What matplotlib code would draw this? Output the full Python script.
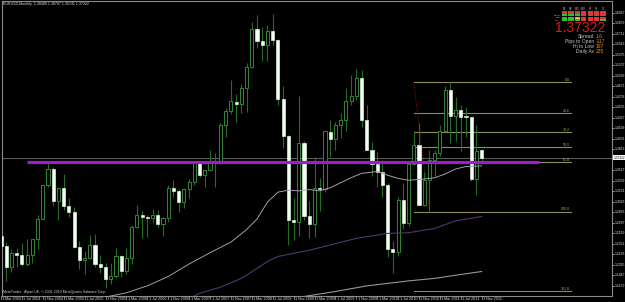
import matplotlib
matplotlib.use('Agg')
import matplotlib.pyplot as plt
from matplotlib import font_manager

# ---------------- data (EURUSD monthly, Mar 2004 .. Nov 2011) ----------------
opens = [1.2478, 1.2316, 1.1975, 1.2200, 1.2173, 1.2026, 1.2175, 1.2434, 1.2754, 1.3293,
         1.3554, 1.3040, 1.3250, 1.2960, 1.2870, 1.2300, 1.2100, 1.2130, 1.2340, 1.2030, 1.1990, 1.1790,
         1.1840, 1.2150, 1.1920, 1.2120, 1.2620, 1.2820, 1.2790, 1.2760, 1.2810, 1.2670, 1.2760, 1.3250,
         1.3200, 1.3030, 1.3230, 1.3350, 1.3650, 1.3450, 1.3530, 1.3680, 1.3640, 1.4260, 1.4480, 1.4630,
         1.4590, 1.4850, 1.5180, 1.5790, 1.5600, 1.5540, 1.5760, 1.5610, 1.4670, 1.4080, 1.2740, 1.2700,
         1.3970, 1.2800, 1.2670, 1.3250, 1.3230, 1.4150, 1.4030, 1.4250, 1.4340, 1.4640, 1.4720, 1.5000,
         1.4330, 1.3860, 1.3630, 1.3510, 1.3290, 1.2270, 1.2230, 1.3050, 1.2690, 1.3630, 1.3930, 1.2980,
         1.3380, 1.3690, 1.3810, 1.4160, 1.4810, 1.4400, 1.4500, 1.4390, 1.4380, 1.3390, 1.3849]
highs = [1.2496, 1.2385, 1.2276, 1.2288, 1.2369, 1.2433, 1.2437, 1.2810, 1.3298, 1.3667,
         1.3580, 1.3269, 1.3470, 1.3090, 1.2935, 1.2390, 1.2240, 1.2490, 1.2515, 1.2180, 1.2050, 1.2040,
         1.2290, 1.2170, 1.2280, 1.2650, 1.2980, 1.2900, 1.2820, 1.2910, 1.2890, 1.2780, 1.3290, 1.3370,
         1.3230, 1.3240, 1.3390, 1.3680, 1.3680, 1.3530, 1.3850, 1.3800, 1.4280, 1.4530, 1.4970, 1.4750,
         1.4910, 1.5240, 1.5910, 1.6020, 1.5820, 1.5850, 1.6038, 1.5630, 1.4870, 1.4090, 1.3080, 1.4720,
         1.4000, 1.3040, 1.3740, 1.3410, 1.4150, 1.4340, 1.4300, 1.4450, 1.4840, 1.5060, 1.5144, 1.5140,
         1.4580, 1.3990, 1.3820, 1.3690, 1.3330, 1.2390, 1.3100, 1.3330, 1.3680, 1.4160, 1.4280, 1.3500,
         1.3860, 1.3860, 1.4250, 1.4880, 1.4940, 1.4700, 1.4580, 1.4550, 1.4390, 1.4250, 1.3871]
lows = [1.2084, 1.1759, 1.1902, 1.1986, 1.2003, 1.2002, 1.2046, 1.2264, 1.2750, 1.3265,
        1.2954, 1.2728, 1.2890, 1.2790, 1.2292, 1.1950, 1.1870, 1.2110, 1.1990, 1.1880, 1.1640, 1.1705,
        1.1800, 1.1820, 1.1870, 1.2030, 1.2600, 1.2450, 1.2460, 1.2690, 1.2620, 1.2480, 1.2710, 1.3100,
        1.2860, 1.2920, 1.3080, 1.3300, 1.3420, 1.3260, 1.3520, 1.3260, 1.3630, 1.4070, 1.4430, 1.4310,
        1.4440, 1.4460, 1.5170, 1.5480, 1.5280, 1.5280, 1.5540, 1.4580, 1.3880, 1.2330, 1.2420, 1.2480,
        1.2740, 1.2450, 1.2460, 1.2880, 1.3180, 1.3750, 1.3850, 1.4050, 1.4160, 1.4580, 1.4650, 1.4220,
        1.3860, 1.3440, 1.3270, 1.3110, 1.2140, 1.1880, 1.2160, 1.2590, 1.2640, 1.3620, 1.2970, 1.2960,
        1.2870, 1.3440, 1.3760, 1.4150, 1.3970, 1.4000, 1.3840, 1.4060, 1.3360, 1.3140, 1.3654]
closes = [1.2316, 1.1975, 1.2200, 1.2173, 1.2026, 1.2175, 1.2434, 1.2754, 1.3293, 1.3554,
          1.3040, 1.3250, 1.2960, 1.2870, 1.2300, 1.2100, 1.2130, 1.2340, 1.2030, 1.1990, 1.1790, 1.1840,
          1.2150, 1.1920, 1.2120, 1.2620, 1.2820, 1.2790, 1.2760, 1.2810, 1.2670, 1.2760, 1.3250, 1.3200,
          1.3030, 1.3230, 1.3350, 1.3650, 1.3450, 1.3530, 1.3680, 1.3640, 1.4260, 1.4480, 1.4630, 1.4590,
          1.4850, 1.5180, 1.5790, 1.5600, 1.5540, 1.5760, 1.5610, 1.4670, 1.4080, 1.2740, 1.2700, 1.3970,
          1.2800, 1.2670, 1.3250, 1.3230, 1.4150, 1.4030, 1.4250, 1.4340, 1.4640, 1.4720, 1.5000, 1.4330,
          1.3860, 1.3630, 1.3510, 1.3290, 1.2270, 1.2230, 1.3050, 1.2690, 1.3630, 1.3930, 1.2980, 1.3380,
          1.3690, 1.3810, 1.4160, 1.4810, 1.4400, 1.4500, 1.4390, 1.4380, 1.3390, 1.3840, 1.37322]

# time-axis labels (every 4th bar)
time_labels = ['1 Mar 2004', '1 Jul 2004', '1 Nov 2004', '1 Mar 2005', '1 Jul 2005', '1 Nov 2005',
               '1 Mar 2006', '1 Jul 2006', '1 Nov 2006', '1 Mar 2007', '1 Jul 2007', '1 Nov 2007',
               '1 Mar 2008', '1 Jul 2008', '1 Nov 2008', '1 Mar 2009', '1 Jul 2009', '1 Nov 2009',
               '1 Mar 2010', '1 Jul 2010', '1 Nov 2010', '1 Mar 2011', '1 Jul 2011', '1 Nov 2011']

# moving averages: (bar index, price)
ma_slow_x = [20, 24, 28, 32, 36, 40, 44, 47, 49, 51, 53, 55, 57, 59, 61, 63, 65, 67, 69, 72, 74, 76, 78, 81, 83, 85, 87, 89, 92]
ma_slow_y = [1.150, 1.157, 1.168, 1.183, 1.203, 1.221, 1.238, 1.258, 1.275, 1.302, 1.318, 1.321, 1.320, 1.322,
             1.320, 1.325, 1.333, 1.341, 1.348, 1.351, 1.345, 1.340, 1.337, 1.339, 1.341, 1.347, 1.355, 1.359, 1.360]
ma_purple_x = [36, 38, 42, 46, 49, 51, 53, 59, 68, 74, 78, 83, 87, 92]
ma_purple_y = [1.148, 1.156, 1.166, 1.180, 1.196, 1.207, 1.215, 1.225, 1.244, 1.252, 1.253, 1.260, 1.272, 1.279]
ma_grey_x = [56, 58, 64, 70, 78, 83, 87, 92]
ma_grey_y = [1.146, 1.151, 1.159, 1.168, 1.176, 1.180, 1.185, 1.191]

# Fibonacci retracement (anchors) and levels
fib_x = [79, 82]
fib_high = 1.4940
fib_low = 1.2870
fib_levels = [0.0, 23.6, 38.2, 50.0, 61.8, 100.0, 161.8]
fib_right = 109
# horizontal support/resistance line
hline_price = 1.3667
hline_x = [5, 103]
bid_price = 1.37322

# price axis labels
price_ticks = [1.6215 - 0.0168 * k for k in range(28)]

# info panel
cols = ['M1', 'M5', 'M15', 'M30', 'H1', 'H4', 'D1']
rows = ['', 'MACD', 'STR', 'EMA']
grid = [['r', 'r', 'r', 'r', 'r', 'r', 'r'],
        ['g', 'g', 'g', 'r', 'r', 'r', 'r'],
        ['g', 'g', 'y', 'r', 'r', 'r', 'r'],
        ['g', 'g', 'g', 'r', 'r', 'r', 'g']]
info_labels = ['Spread', 'Pips to Open', 'Hi to Low', 'Daily Av']
info_values = ['1.6', '-117', '197', '235']

# ---------------- figure ----------------
W, H = 625, 302
fig = plt.figure(figsize=(W / 100, H / 100), dpi=100, facecolor='black')
names = {f.name for f in font_manager.fontManager.ttflist}
small_font = 'Liberation Sans Narrow' if 'Liberation Sans Narrow' in names else 'Liberation Sans'

L, R, T, B = 2, 612, 1, 296
ax = fig.add_axes([L / W, 1 - B / H, (R - L) / W, (B - T) / H])
ax.set_facecolor('black')

dx = 5.225
x0 = 1.0
def px2x(px):
    return (px - x0) / dx
s = 0.0016
def py2p(py):
    return 1.6038 - (py - 13.5) * s

ax.set_xlim(px2x(L), px2x(R))
ax.set_ylim(py2p(B), py2p(T))
for sp in ax.spines.values():
    sp.set_color('#8a8a8a')
    sp.set_linewidth(0.8)
ax.set_xticks([])
ax.set_yticks([])

# bid line
ax.axhline(bid_price, color='#5a5a5a', lw=0.8, zorder=1)

# fib
fr = fib_high - fib_low
for lv in fib_levels:
    p = fib_high - lv / 100 * fr
    ax.plot([fib_x[0], fib_right], [p, p], color='#8c8c5c', lw=0.8, zorder=1)
    ax.text(fib_right - 0.1, p, '%.1f' % lv, color='#b8a860', fontsize=2.6, ha='right', va='bottom',
            family=small_font, zorder=6)
ax.plot(fib_x, [fib_high, fib_low], color='#a01010', lw=0.7, ls=(0, (1, 1.5)), zorder=1.5)

# candles
bw = 0.6
for i, (o, h, l, c) in enumerate(zip(opens, highs, lows, closes)):
    ax.vlines(i, l, h, color='#276b27', lw=0.8, zorder=2)
    lo, hi = min(o, c), max(o, c)
    hgt = max(hi - lo, 0.0006)
    if c >= o:
        ax.bar(i, hgt, bottom=lo, width=bw, color='black', edgecolor='#348534', lw=0.7, zorder=3)
    else:
        ax.bar(i, hgt, bottom=lo, width=bw, color='#f4fff4', edgecolor='#d8f0d8', lw=0.5, zorder=3)

# moving averages
ax.plot(ma_slow_x, ma_slow_y, color='#a0a0a8', lw=0.7, zorder=4)
ax.plot(ma_purple_x, ma_purple_y, color='#503674', lw=0.8, zorder=4)
ax.plot(ma_grey_x, ma_grey_y, color='#8c9e8c', lw=0.8, zorder=4)

# purple horizontal line
ax.plot(hline_x, [hline_price, hline_price], color='#9a1fc8', lw=2.3, solid_capstyle='butt', zorder=5)

# ---------------- text ----------------
def ftext(px, py, s, **kw):
    return fig.text(px / W, 1 - py / H, s, **kw)

ftext(3, 3.5, 'EURUSD,Monthly  1.38488 1.38707 1.35741 1.37322', color='#e0e0e0', fontsize=2.6,
      family=small_font, va='center', ha='left')
ftext(3, 292.5, 'MetaTrader - Alpari UK, \u00a9 2001-2010 MetaQuotes Software Corp.', color='#d0d0d0',
      fontsize=2.5, family=small_font, va='center', ha='left')

# time axis
for k, lab in enumerate(time_labels):
    xp = x0 + dx * 4 * k
    fig.add_artist(plt.Line2D([xp / W, xp / W], [1 - 296 / H, 1 - 299 / H], color='#b0b0b0', lw=0.5))
    ftext(xp + 1.5, 299.3, lab, color='#e0e0e0', fontsize=2.7, family=small_font, va='center', ha='left')

# price axis
ybid = 13.5 + (1.6038 - bid_price) / s
for p in price_ticks:
    yp = 13.5 + (1.6038 - p) / s
    if yp < 2.5 or yp > 299 or abs(yp - ybid) < 5:
        continue
    fig.add_artist(plt.Line2D([612 / W, 614 / W], [1 - yp / H, 1 - yp / H], color='#b0b0b0', lw=0.5))
    ftext(614.8, yp, '%.4f' % p, color='#e0e0e0', fontsize=2.4, family=small_font, va='center', ha='left')
# bid box
ftext(613.6, ybid, '%.5f' % bid_price, color='black', fontsize=2.3, family=small_font, va='center', ha='left',
      bbox=dict(boxstyle='square,pad=0.12', fc='white', ec='white', lw=0))

# info panel grid
cmap = {'r': '#d83a3a', 'g': '#2ec02e', 'y': '#d8c030'}
for j, c in enumerate(cols):
    cx = 562 + j * 6.4
    ftext(cx + 2.5, 9.0, c, color='#c0c0c0', fontsize=1.8, family=small_font, ha='center', va='center')
for r_i, row in enumerate(grid):
    cy = 11.5 + r_i * 2.6
    ftext(560, cy + 1, rows[r_i], color='#c0c0c0', fontsize=1.6, family=small_font, ha='right', va='center')
    for j, col in enumerate(row):
        cx = 562 + j * 6.4
        fig.patches.append(matplotlib.patches.Rectangle((cx / W, 1 - (cy + 2) / H), 5.2 / W, 2.0 / H,
                                                        transform=fig.transFigure, fc=cmap[col], ec='none'))

ftext(605, 27.5, '1.37322', color='#e01818', fontsize=10, family='Liberation Sans', ha='right', va='center')
for k, (lb, vv) in enumerate(zip(info_labels, info_values)):
    yy = 36.5 + k * 5.1
    ftext(594, yy, lb, color='#c8c8c8', fontsize=3.6, family='Liberation Sans', ha='right', va='center')
    ftext(596, yy, vv, color='#e88a20', fontsize=3.6, family='Liberation Sans', ha='left', va='center')

fig.savefig('out.png', dpi=100, facecolor='black')
